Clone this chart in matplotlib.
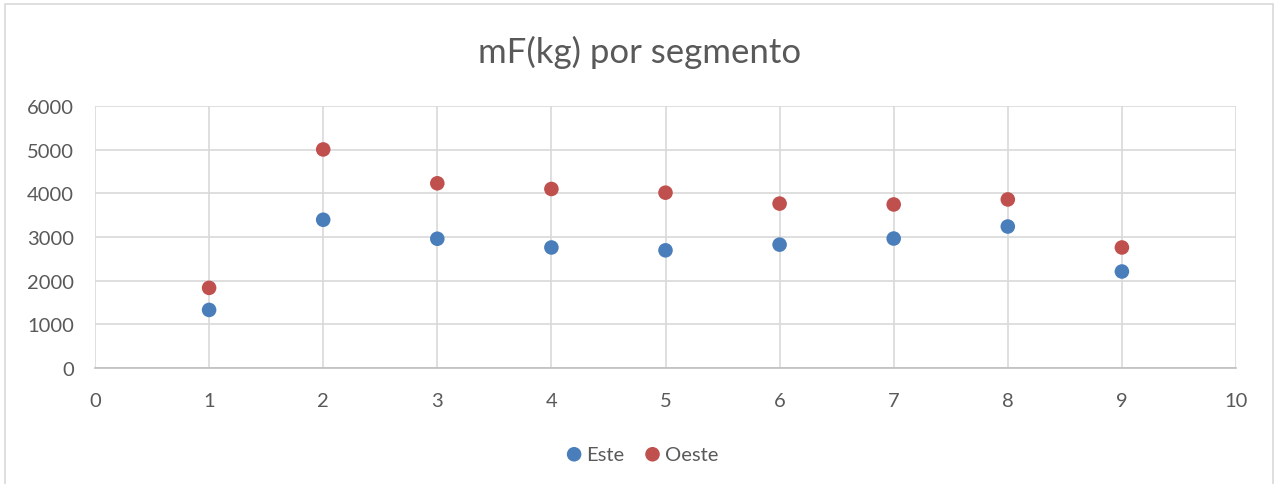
import matplotlib.pyplot as plt
from matplotlib.patches import Rectangle

# Datos
segmentos = [1, 2, 3, 4, 5, 6, 7, 8, 9]
este = [1330, 3395, 2960, 2760, 2695, 2825, 2965, 3240, 2210]
oeste = [1835, 5005, 4230, 4100, 4015, 3765, 3745, 3860, 2760]

plt.rcParams['font.family'] = ['Lato', 'DejaVu Sans']

fig = plt.figure(figsize=(12.8, 4.85), dpi=100)
ax = fig.add_axes([95 / 1280, 1 - 369 / 485, (1236 - 95) / 1280, (369 - 107) / 485])

ax.scatter(segmentos, este, s=110, color='#4A7EBB', label='Este', zorder=3, edgecolors='none')
ax.scatter(segmentos, oeste, s=110, color='#C0504D', label='Oeste', zorder=3, edgecolors='none')

ax.set_xlim(0, 10)
ax.set_ylim(0, 6000)
ax.set_xticks(range(0, 11))
ax.set_yticks(range(0, 6001, 1000))
ax.grid(True, color='#D9D9D9', linewidth=1.2)
ax.set_axisbelow(True)
ax.tick_params(length=0, labelsize=14.5, colors='#595959')
ax.tick_params(axis='x', pad=17)
ax.tick_params(axis='y', pad=15)
for side in ['top', 'right', 'left']:
    ax.spines[side].set_visible(False)
ax.spines['bottom'].set_color('#BFBFBF')
ax.spines['bottom'].set_linewidth(1.2)

fig.text(0.5, 1 - 52 / 485, 'mF(kg) por segmento', ha='center', va='center',
         fontsize=25, color='#595959')

fig.legend(loc='center', bbox_to_anchor=(0.5, 1 - 455 / 485), ncol=2, frameon=False,
           fontsize=14.5, labelcolor='#595959', handletextpad=0.0, columnspacing=0.8,
           handlelength=1.2, markerscale=1.0)

# Marco exterior del gráfico
fig.patches.append(Rectangle((5 / 1280, -0.01), 1268 / 1280, 1 - 5 / 485 + 0.01,
                             transform=fig.transFigure, fill=False,
                             edgecolor='#D9D9D9', linewidth=1.2))

fig.savefig('out.png', dpi=100, facecolor='white')
